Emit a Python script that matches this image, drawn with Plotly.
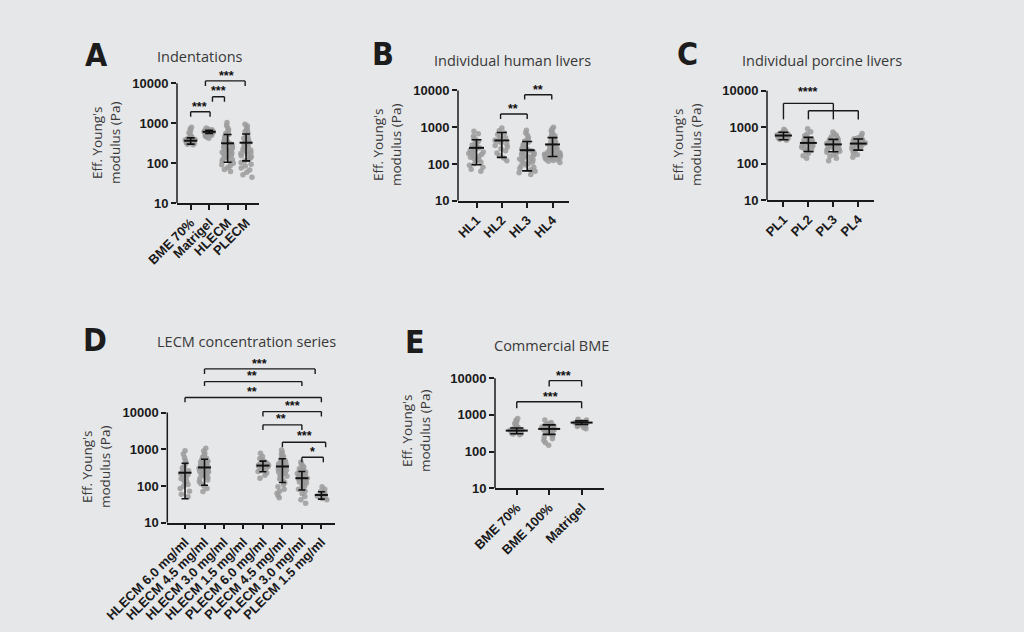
import numpy as np
import plotly.graph_objects as go

W, H = 1024, 632

# ---------------- data (Eff. Young's modulus, Pa) ----------------
# Panel A - Indentations
A_categories = ["BME 70%", "Matrigel", "HLECM", "PLECM"]
BME70_values = [290, 300, 312, 320, 331, 336, 342, 350, 356, 361, 366, 371, 376, 381, 386, 392, 401, 412, 421, 433, 452, 482, 522, 580, 650, 720, 800]
MATRIGEL_values = [420, 452, 480, 502, 521, 540, 556, 569, 580, 591, 600, 606, 612, 621, 631, 641, 652, 671, 692, 722, 760]
A_HLECM_values = [62, 70, 78, 85, 92, 100, 108, 115, 122, 130, 138, 145, 152, 160, 168, 175, 182, 190, 198, 205, 215, 225,
                  235, 245, 255, 265, 275, 290, 305, 320, 335, 350, 370, 390, 410, 435, 460, 490, 520, 560, 610, 680, 760, 880, 1050]
A_PLECM_values = [45, 52, 60, 68, 76, 85, 95, 105, 115, 125, 135, 145, 155, 165, 175, 185, 195, 205, 215, 225, 240, 255,
                  270, 285, 300, 315, 330, 345, 360, 380, 400, 420, 445, 470, 500, 530, 570, 620, 680, 760, 850, 950]
A_means = [367, 612, 316, 327]
A_sds = [65, 55, 210, 212]

# Panel B - Individual human livers
B_categories = ["HL1", "HL2", "HL3", "HL4"]
HL1_values = [64, 72, 82, 92, 102, 112, 122, 132, 142, 152, 162, 172, 182, 192, 202, 212, 224, 236, 248, 262, 276, 292,
              310, 330, 355, 380, 410, 450, 500, 570, 660, 780]
HL2_values = [122, 145, 170, 200, 230, 260, 290, 320, 350, 380, 410, 440, 480, 520, 570, 630, 700, 800, 950]
HL3_values = [52, 58, 64, 70, 76, 82, 88, 94, 100, 106, 112, 118, 124, 130, 137, 144, 151, 158, 165, 172, 180, 188, 196,
              205, 215, 225, 235, 246, 258, 270, 284, 300, 318, 338, 360, 390, 420, 460, 520, 600, 700, 820]
HL4_values = [110, 118, 125, 130, 135, 140, 145, 150, 155, 160, 165, 170, 175, 180, 185, 190, 195, 200, 205, 210, 218, 225,
              232, 240, 248, 256, 265, 275, 285, 295, 305, 318, 330, 345, 360, 375, 395, 415, 440, 470, 500, 540, 590, 650,
              720, 800, 900, 1000]
B_means = [275, 436, 237, 340]
B_sds = [180, 285, 172, 180]

# Panel C - Individual porcine livers
C_categories = ["PL1", "PL2", "PL3", "PL4"]
PL1_values = [440, 470, 490, 505, 520, 535, 545, 555, 565, 575, 585, 595, 605, 615, 625, 640, 655, 675, 700, 740, 800, 880]
PL2_values = [140, 165, 190, 210, 230, 250, 265, 280, 295, 310, 325, 340, 355, 370, 385, 400, 420, 440, 465, 490, 530, 580,
              650, 750, 900]
PL3_values = [120, 140, 160, 175, 190, 205, 218, 230, 242, 254, 265, 276, 287, 298, 309, 320, 331, 342, 354, 366, 378, 390,
              405, 420, 440, 460, 485, 515, 550, 600, 660, 740]
PL4_values = [150, 175, 200, 220, 238, 254, 268, 282, 295, 308, 320, 332, 344, 356, 368, 380, 393, 406, 420, 436, 455, 478,
              505, 540, 590, 670]
C_means = [590, 370, 337, 355]
C_sds = [140, 155, 125, 120]

# Panel D - LECM concentration series
D_categories = ["HLECM 6.0 mg/ml", "HLECM 4.5 mg/ml", "HLECM 3.0 mg/ml", "HLECM 1.5 mg/ml",
                "PLECM 6.0 mg/ml", "PLECM 4.5 mg/ml", "PLECM 3.0 mg/ml", "PLECM 1.5 mg/ml"]
HLECM60_values = [51, 60, 72, 85, 98, 110, 122, 135, 148, 160, 175, 190, 205, 220, 240, 260, 285, 310, 340, 380, 430, 500,
                  600, 750, 920]
HLECM45_values = [71, 85, 100, 115, 130, 145, 158, 170, 182, 194, 206, 218, 230, 242, 254, 266, 278, 290, 303, 316, 330,
                  345, 360, 376, 393, 411, 430, 452, 476, 502, 532, 570, 620, 690, 780, 900, 1070]
HLECM30_values = []
HLECM15_values = []
PLECM60_values = [163, 195, 225, 250, 270, 290, 305, 320, 335, 350, 365, 380, 400, 420, 445, 475, 510, 560, 640, 780]
PLECM45_values = [48, 55, 63, 72, 82, 95, 110, 125, 140, 155, 170, 185, 200, 215, 230, 245, 260, 275, 290, 305, 320, 335,
                  350, 368, 386, 405, 425, 447, 470, 495, 525, 560, 600, 650, 720, 820, 950]
PLECM30_values = [34, 42, 52, 62, 72, 82, 90, 98, 106, 114, 121, 128, 135, 142, 149, 156, 163, 170, 177, 184, 192, 200,
                  209, 218, 228, 240, 252, 266, 282, 300, 325, 355, 400, 450]
PLECM15_values = [42, 46, 50, 53, 56, 59, 62, 66, 72, 82, 96]
D_means = [230, 320, None, None, 360, 340, 163, 57]
D_sds = [185, 215, None, None, 115, 215, 85, 13]

# Panel E - Commercial BME
E_categories = ["BME 70%", "BME 100%", "Matrigel"]
BME100_values = [150, 175, 200, 225, 250, 275, 300, 320, 340, 360, 375, 390, 405, 420, 435, 450, 465, 480, 495, 510, 525,
                 540, 555, 580, 620, 730]
E_means = [373, 415, 617]
E_sds = [65, 120, 70]

# Significance brackets: (from group, to group, bar level Pa, leg end Pa, label, label group pos, label level Pa)
A_sig = [(0, 1.05, 1950, 1460, "***", 0.5, 3020),
         (1.18, 1.83, 4620, 3470, "***", 1.5, 7240),
         (0.8, 2.95, 11480, 8510, "***", 1.95, 17800)]
B_sig = [(0.95, 2.0, 2290, 1680, "**", 1.45, 3550),
         (1.9, 2.97, 7640, 5620, "**", 2.43, 12300)]
C_sig = [(0, 2, 4510, 1640, "", 1, 1),
         (1, 3, 2820, 1640, "****", 1.0, 10960)]
D_sig = [(1, 6.68, 155000, 113500, "***", 3.82, 245000),
         (1, 6, 70000, 53300, "**", 3.45, 118600),
         (0, 7, 25700, 19200, "**", 3.45, 43400),
         (4, 7, 10650, 7770, "***", 5.5, 18000),
         (4, 6, 4630, 3380, "**", 4.95, 7770),
         (5, 7.22, 1560, 1140, "***", 6.12, 2750),
         (6, 7.1, 610, 446, "*", 6.57, 1000)]
E_sig = [(1, 2, 8600, 5900, "***", 1.45, 13700),
         (0, 2, 2290, 1510, "***", 1.05, 3510)]

Y_TICKS = [10, 100, 1000, 10000]
Y_TICKTEXT = ["10", "100", "1000", "10000"]

# ---------------- layout geometry (pixels) ----------------
panels = [
    dict(letter="A", title="Indentations", cats=A_categories,
         groups=[BME70_values, MATRIGEL_values, A_HLECM_values, A_PLECM_values],
         means=A_means, sds=A_sds, sig=A_sig,
         left=177, right=259, xr=(-0.74, 3.7), px10=203.3, ppd=40.0, top=4.45,
         letter_xy=(96, 55), title_xy=(200, 56), ytitle_xy=(106, 143),
         bw=0.66, msize=9.3, cap=4),
    dict(letter="B", title="Individual human livers", cats=B_categories,
         groups=[HL1_values, HL2_values, HL3_values, HL4_values],
         means=B_means, sds=B_sds, sig=B_sig,
         left=458, right=569, xr=(-0.73, 3.65), px10=200.8, ppd=36.8, top=4.35,
         letter_xy=(383, 54), title_xy=(512, 60.5), ytitle_xy=(387, 145),
         bw=0.66, msize=10.7, cap=5),
    dict(letter="C", title="Individual porcine livers", cats=C_categories,
         groups=[PL1_values, PL2_values, PL3_values, PL4_values],
         means=C_means, sds=C_sds, sig=C_sig,
         left=767, right=874, xr=(-0.66, 3.63), px10=200.0, ppd=36.4, top=4.35,
         letter_xy=(687, 54), title_xy=(822, 60.5), ytitle_xy=(687, 145),
         bw=0.6, msize=12.1, cap=5),
    dict(letter="D", title="LECM concentration series", cats=D_categories,
         groups=[HLECM60_values, HLECM45_values, HLECM30_values, HLECM15_values,
                 PLECM60_values, PLECM45_values, PLECM30_values, PLECM15_values],
         means=D_means, sds=D_sds, sig=D_sig,
         left=167.3, right=335, xr=(-0.91, 7.7), px10=522.7, ppd=36.7, top=5.6,
         letter_xy=(95, 340), title_xy=(246, 341.7), ytitle_xy=(96, 467),
         bw=0.6, msize=9.3, cap=3.5),
    dict(letter="E", title="Commercial BME", cats=E_categories,
         groups=[BME70_values, BME100_values, MATRIGEL_values],
         means=E_means, sds=E_sds, sig=E_sig,
         left=495, right=604, xr=(-0.67, 2.69), px10=488.3, ppd=36.7, top=4.35,
         letter_xy=(415, 342), title_xy=(551, 345.8), ytitle_xy=(416, 431),
         bw=0.45, msize=15.7, cap=6.5),
]

TEXT_GRAY = "#383838"
TICK_FONT = dict(family="Liberation Sans, Arial, sans-serif", size=13, color="#1a1a1a", weight="bold")
POINT_COLOR = "rgba(155,155,155,0.85)"


def px2x(px):
    return px / W


def py2y(py):
    return 1 - py / H


fig = go.Figure()
layout = dict(template="none", width=W, height=H, autosize=False,
              margin=dict(l=0, r=0, t=0, b=0, pad=0),
              paper_bgcolor="#e6e7e9", plot_bgcolor="rgba(0,0,0,0)",
              showlegend=False, shapes=[], annotations=[])

for n, p in enumerate(panels, start=1):
    sfx = "" if n == 1 else str(n)
    xa, ya = "x" + sfx, "y" + sfx
    top_px = p["px10"] - (p["top"] - 1) * p["ppd"]
    layout["xaxis" + sfx] = dict(
        domain=[px2x(p["left"]), px2x(p["right"])], range=list(p["xr"]), anchor=ya,
        tickmode="array", tickvals=list(range(len(p["cats"]))), ticktext=p["cats"],
        tickangle=-45, ticks="outside", ticklen=5, tickwidth=1.5, tickcolor="#1a1a1a",
        showline=True, linecolor="#1a1a1a", linewidth=1.5, showgrid=False, zeroline=False,
        tickfont=TICK_FONT, fixedrange=True, automargin=False)
    layout["yaxis" + sfx] = dict(
        type="log", domain=[py2y(p["px10"]), py2y(top_px)], range=[1, p["top"]], anchor=xa,
        tickmode="array", tickvals=Y_TICKS, ticktext=Y_TICKTEXT,
        ticks="outside", ticklen=5, tickwidth=1.5, tickcolor="#1a1a1a",
        showline=False, showgrid=False, zeroline=False, tickfont=TICK_FONT, fixedrange=True,
        automargin=False)

    # individual measurements
    xs, ys = [], []
    for i, vals in enumerate(p["groups"]):
        xs += [i] * len(vals)
        ys += list(vals)
    fig.add_trace(go.Box(x=xs, y=ys, xaxis=xa, yaxis=ya, boxpoints="all", jitter=1, pointpos=0,
                         width=p["bw"], marker=dict(color=POINT_COLOR, size=5.5),
                         line=dict(width=0), fillcolor="rgba(0,0,0,0)", whiskerwidth=0,
                         hoveron="points", showlegend=False))

    # mean +/- SD
    mx = [i for i, m in enumerate(p["means"]) if m is not None]
    my = [p["means"][i] for i in mx]
    ms = [p["sds"][i] for i in mx]
    fig.add_trace(go.Scatter(x=mx, y=my, xaxis=xa, yaxis=ya, mode="markers", cliponaxis=False,
                             marker=dict(symbol="line-ew", size=p["msize"], color="#111111",
                                         line=dict(width=2, color="#111111")),
                             error_y=dict(type="data", array=ms, symmetric=True, visible=True,
                                          color="#111111", thickness=1.6, width=p["cap"]),
                             showlegend=False))

    # y axis line from 10 to 10000
    layout["shapes"].append(dict(type="line", xref=xa + " domain", yref=ya, x0=0, x1=0,
                                 y0=Y_TICKS[0], y1=Y_TICKS[-1],
                                 line=dict(color="#1a1a1a", width=1.5)))

    # significance brackets
    for (g0, g1, ybar, yleg, lab, lx, ly) in p["sig"]:
        for (x0, y0, x1, y1) in [(g0, yleg, g0, ybar), (g0, ybar, g1, ybar), (g1, ybar, g1, yleg)]:
            layout["shapes"].append(dict(type="line", xref=xa, yref=ya, x0=x0, y0=y0, x1=x1, y1=y1,
                                         line=dict(color="#1a1a1a", width=1.4)))
        if lab:
            layout["annotations"].append(dict(
                x=lx, y=float(np.log10(ly)), xref=xa, yref=ya, text=lab, showarrow=False,
                xanchor="center", yanchor="middle", yshift=-2.5,
                font=dict(family="Liberation Sans, Arial, sans-serif", size=12.5, color="#111111", weight="bold")))

    # panel letter, title, y title
    lx_, ly_ = p["letter_xy"]
    layout["annotations"].append(dict(
        x=px2x(lx_), y=py2y(ly_), xref="paper", yref="paper", text=p["letter"], showarrow=False,
        xanchor="center", yanchor="middle",
        font=dict(family="Liberation Sans Narrow, DejaVu Sans Condensed, sans-serif", size=32,
                  color="#1c1c1c", weight="bold")))
    tx, ty = p["title_xy"]
    layout["annotations"].append(dict(
        x=px2x(tx), y=py2y(ty), xref="paper", yref="paper", text=p["title"], showarrow=False,
        xanchor="center", yanchor="middle",
        font=dict(family="Open Sans, Noto Sans, sans-serif", size=14.5, color=TEXT_GRAY)))
    yx, yy = p["ytitle_xy"]
    layout["annotations"].append(dict(
        x=px2x(yx), y=py2y(yy), xref="paper", yref="paper", text="Eff. Young's<br>modulus (Pa)",
        showarrow=False, textangle=-90, xanchor="center", yanchor="middle",
        font=dict(family="Open Sans, Noto Sans, sans-serif", size=13.5, color=TEXT_GRAY)))

fig.update_layout(**layout)
fig.write_html("out.html", config={"displayModeBar": False},
               post_script="document.body.style.margin='0';document.body.style.overflow='hidden';")
